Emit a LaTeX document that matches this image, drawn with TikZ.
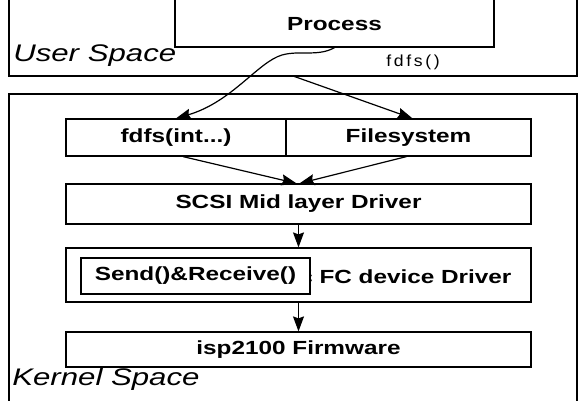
\documentclass[tikz,border=0pt]{standalone}
\usepackage{fontspec}
\setmainfont{Liberation Sans}
\newfontfamily\callfont[LetterSpace=15]{Liberation Sans}
\usetikzlibrary{arrows.meta}

\tikzset{
  layer/.style={draw=black, line width=1.2pt, fill=white, inner sep=0pt},
  lbl/.style={font=\bfseries\fontsize{19}{21}\selectfont, xscale=1.28, inner sep=0pt},
  space/.style={font=\itshape\fontsize{24}{26}\selectfont, xscale=1.3, anchor=west, inner sep=0pt},
  flow/.style={line width=1.2pt, -{Stealth[length=15pt,width=11pt,inset=2pt]}},
}

\begin{document}
\begin{tikzpicture}[x=1pt, y=-1pt]
\useasboundingbox (0,0) rectangle (583,401);
\clip (0,0) rectangle (583,401);

% user space and kernel space frames (their far edges run off the page)
\draw[line width=1.2pt] (9,-10) rectangle (577,76);
\draw[line width=1.2pt] (9,94) rectangle (577,420);
\node[space] (user) at (13,56) {User Space};
\node[space] (kern) at (12,379) {Kernel Space};

% process box
\node[layer, minimum width=319pt, minimum height=62pt] (proc) at (334.5,16) {};
\node[lbl] (proctxt) at (334.5,24) {Process};
\node[font=\callfont\fontsize{16}{18}\selectfont, xscale=1.1, inner sep=0pt] (call) at (413,62) {fdfs()};
\coordinate (ubot) at (293,76);

% kernel boxes
\node[layer, minimum width=220pt, minimum height=37pt] (fdfs) at (176,137.5) {};
\node[lbl] at (fdfs) {fdfs(int...)};
\node[layer, minimum width=245pt, minimum height=37pt] (fs) at (408.5,137.5) {};
\node[lbl] at (fs) {Filesystem};
\node[layer, minimum width=465pt, minimum height=40pt] (scsi) at (298.5,204) {};
\node[lbl] at (scsi) {SCSI Mid layer Driver};
\node[layer, minimum width=465pt, minimum height=54pt] (fc) at (298.5,275) {};
\node[lbl, anchor=west] (fctxt) at (299,277) {c FC device Driver};
\node[layer, minimum width=229pt, minimum height=36pt] (send) at (195.5,276) {};
\node[lbl] at (send) {Send()\&Receive()};
\node[layer, minimum width=465pt, minimum height=35pt] (fw) at (298.5,349.5) {};
\node[lbl] at (fw) {isp2100 Firmware};

% calls
\draw[flow] (proc.south) .. controls (318,57) and (300,50) .. (282,55)
  .. controls (258,62) and (232,102) .. (fdfs.north);
\draw[flow] (ubot) -- ([xshift=4pt]fs.north);
\draw[flow] ([xshift=7pt]fdfs.south) -- ([xshift=-2pt]scsi.north);
\draw[flow] ([xshift=-2pt]fs.south) -- ([xshift=1pt]scsi.north);
\draw[flow] (scsi.south) -- (fc.north);
\draw[flow] (fc.south) -- (fw.north);
\end{tikzpicture}
\end{document}
